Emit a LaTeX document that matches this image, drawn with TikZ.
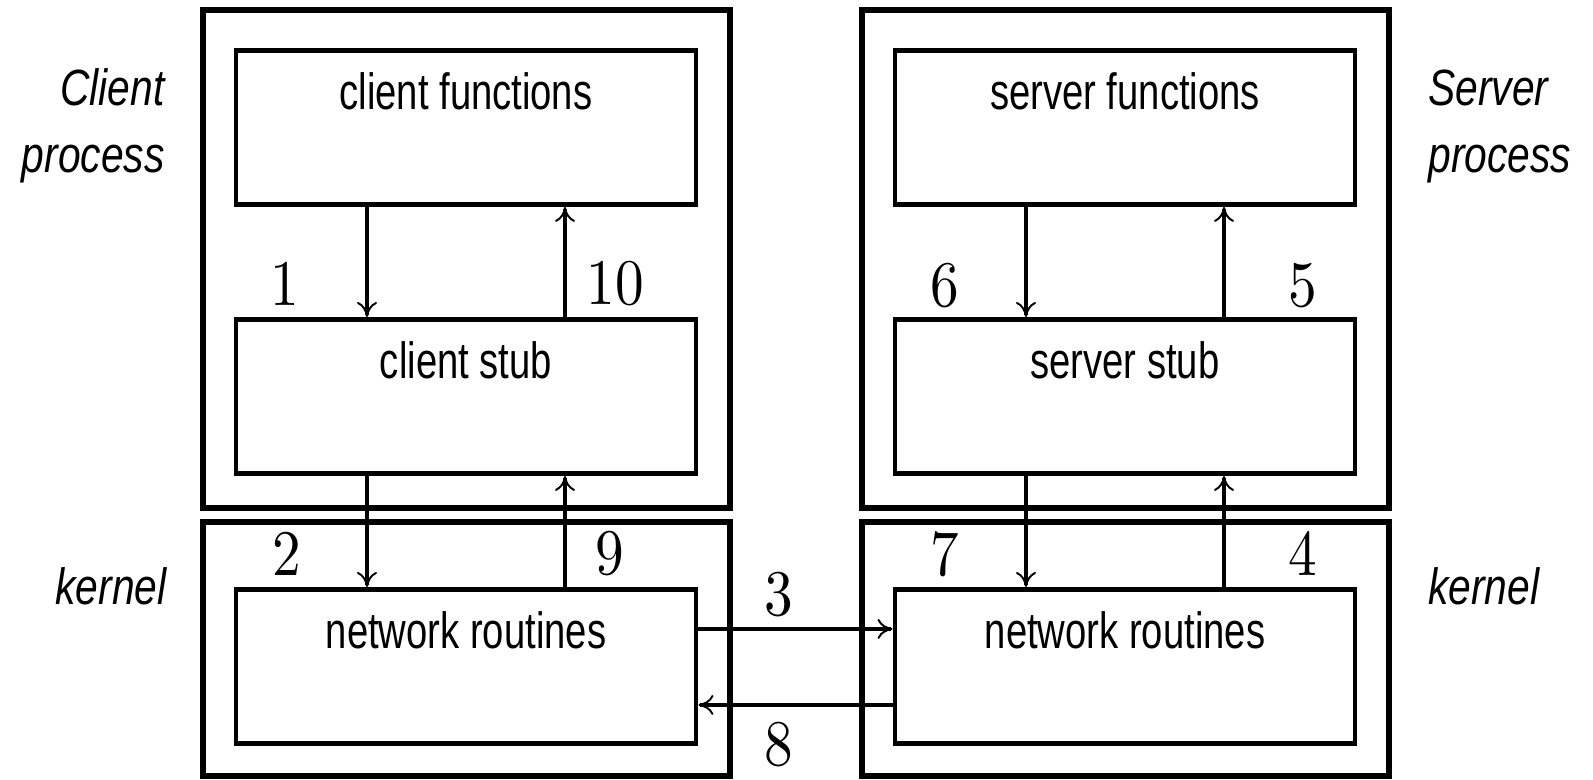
\documentclass[tikz,border=0pt]{standalone}
\usepackage{fontspec}
\usepackage{tikz}
\usetikzlibrary{arrows.meta}
\newfontfamily\boxfont[FakeStretch=0.75]{Liberation Sans}
\newfontfamily\sidefont[FakeStretch=0.8]{Liberation Sans}
\newfontfamily\numfont[FakeStretch=0.88]{lmroman10-regular.otf}

\tikzset{
	procbox/.style={draw, line width=3pt, inner sep=0pt, minimum width=10.54cm},
	inbox/.style={draw, line width=2.8pt, inner sep=0pt, anchor=north, minimum width=9.2cm,
		text height=1.18cm, text depth=1.9cm, font=\boxfont\fontsize{29}{35}\selectfont},
	link/.style={line width=1.9pt, -{Computer Modern Rightarrow[length=0.3cm,width=0.4cm,line width=1.1pt]}},
	stepnum/.style={inner sep=0pt, font=\numfont\fontsize{37}{40}\selectfont},
	sidetag/.style={inner sep=0pt, font=\sidefont\itshape\fontsize{29}{38.6}\selectfont},
}

\begin{document}
\begin{tikzpicture}
	\useasboundingbox (0,0) rectangle (31.86,15.6);
	% process and kernel frames
	\node (cproc) at(9.33,10.42)[procbox,minimum height=9.96cm]{};
	\node (ckern) at(9.33,2.62)[procbox,minimum height=5.08cm]{};
	\node (sproc) at(22.51,10.42)[procbox,minimum height=9.96cm]{};
	\node (skern) at(22.51,2.62)[procbox,minimum height=5.08cm]{};
	% inner boxes
	\node (cfun) at(9.32,14.64)[inbox]{client functions};
	\node (cstub) at(9.32,9.26)[inbox]{client stub};
	\node (cnet) at(9.32,3.86)[inbox]{network routines};
	\node (sfun) at(22.5,14.64)[inbox]{server functions};
	\node (sstub) at(22.5,9.26)[inbox]{server stub};
	\node (snet) at(22.5,3.86)[inbox]{network routines};
	\foreach \side in {c,s}{
		\draw[link] ([xshift=-1.98cm]\side fun.south) -- ([xshift=-1.98cm]\side stub.north);
		\draw[link] ([xshift=1.98cm]\side stub.north) -- ([xshift=1.98cm]\side fun.south);
		\draw[link] ([xshift=-1.98cm]\side stub.south) -- ([xshift=-1.98cm]\side net.north);
		\draw[link] ([xshift=1.98cm]\side net.north) -- ([xshift=1.98cm]\side stub.south);
	}
	\draw[link] ([yshift=0.75cm]cnet.east) -- ([yshift=0.75cm]snet.west);
	\draw[link] ([yshift=-0.77cm]snet.west) -- ([yshift=-0.77cm]cnet.east);
	\foreach \num/\px/\py in {1/5.7/9.92,10/12.3/9.92,2/5.74/4.52,9/12.2/4.52,
		6/18.9/9.88,5/26.06/9.88,7/18.9/4.52,4/26.06/4.52,3/15.58/3.7,8/15.58/0.7}{
		\node (n\num) at(\px,\py)[stepnum]{\num};
	}
	\node (ctag) at(3.3,12.14)[sidetag,anchor=base east,align=right]{Client\\process};
	\node (stag) at(28.56,12.14)[sidetag,anchor=base west,align=left]{Server\\process};
	\node (cktag) at(3.34,3.5)[sidetag,anchor=base east]{kernel};
	\node (sktag) at(28.56,3.5)[sidetag,anchor=base west]{kernel};
\end{tikzpicture}
\end{document}
